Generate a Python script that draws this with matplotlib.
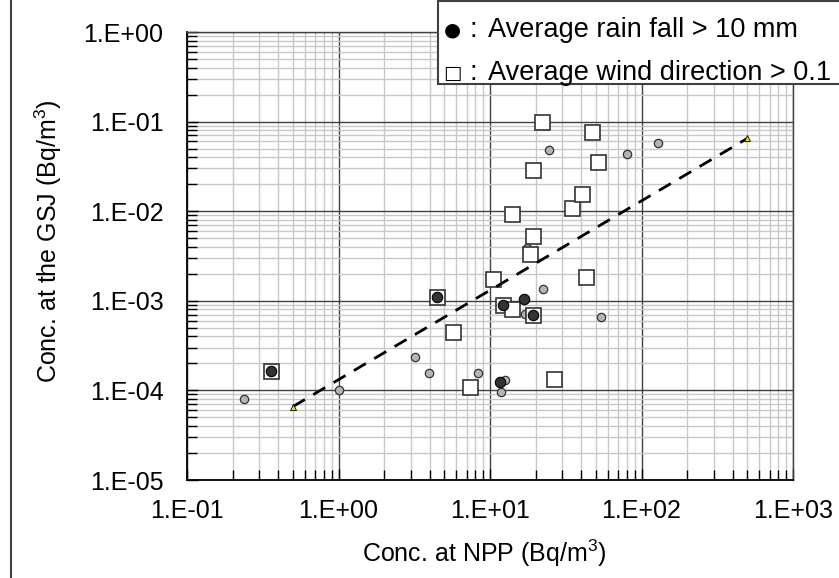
import numpy as np
import matplotlib
matplotlib.use("Agg")
import matplotlib.pyplot as plt
from matplotlib.ticker import LogLocator, FuncFormatter, NullFormatter
from matplotlib.patches import Rectangle
from matplotlib.lines import Line2D

plt.rcParams['font.family'] = ['Liberation Sans', 'DejaVu Sans']
plt.rcParams['mathtext.fontset'] = 'custom'
plt.rcParams['mathtext.rm'] = 'Liberation Sans'
plt.rcParams['mathtext.it'] = 'Liberation Sans:italic'

# all samples (grey dots)
all_x = [0.239, 1.0, 3.2, 3.95, 8.3, 12.5, 11.9, 17.0, 22.5, 53.8, 17.5, 24.7, 80.0, 129.0]
all_y = [8.1e-5, 1.0e-4, 2.35e-4, 1.56e-4, 1.57e-4, 1.32e-4, 9.7e-5, 7.1e-4,
         1.34e-3, 6.65e-4, 3.9e-3, 0.048, 0.0433, 0.057]

# average rain fall > 10 mm (dark dots)
rain_x = [0.357, 4.5, 11.6, 12.1, 16.8, 19.2]
rain_y = [1.64e-4, 1.09e-3, 1.24e-4, 8.9e-4, 1.06e-3, 7.0e-4]

# average wind direction > 0.1 (open squares)
wind_x = [0.357, 4.5, 5.7, 7.4, 10.5, 12.1, 13.9, 19.2, 26.3, 18.4,
          43.0, 19.3, 13.9, 34.7, 40.6, 19.2, 52.0, 47.1, 22.1]
wind_y = [1.64e-4, 1.09e-3, 4.5e-4, 1.08e-4, 1.74e-3, 8.9e-4, 8.2e-4, 7.0e-4, 1.35e-4, 3.3e-3,
          1.85e-3, 5.26e-3, 9.2e-3, 0.0109, 0.0156, 0.0289, 0.0356, 0.077, 0.0995]

# regression line end points
fit_x = [0.5, 500]
fit_y = [6.6e-5, 0.065]

W, H = 839, 578
fig = plt.figure(figsize=(W / 100, H / 100), dpi=100)
ax = fig.add_axes([187 / W, 1 - 480 / H, (793 - 187) / W, (480 - 32) / H])

ax.set_xscale('log')
ax.set_yscale('log')
ax.set_xlim(0.1, 1000)
ax.set_ylim(1e-5, 1)

for axis in (ax.xaxis, ax.yaxis):
    axis.set_major_locator(LogLocator(base=10, numticks=20))
    axis.set_minor_locator(LogLocator(base=10, subs=np.arange(2, 10), numticks=20))
    axis.set_major_formatter(FuncFormatter(lambda v, p: "1.E%+03d" % int(round(np.log10(v)))))
    axis.set_minor_formatter(NullFormatter())

ax.set_axisbelow(True)
ax.grid(which='minor', color='#c8c8c8', lw=1.0)
ax.grid(which='major', color='#404040', lw=1.0)

ax.tick_params(which='both', direction='in', top=False, right=False, color='black', labelsize=18)
ax.tick_params(which='major', length=8, width=1)
ax.tick_params(which='minor', length=7, width=1)
ax.tick_params(axis='x', pad=14)
ax.tick_params(axis='y', pad=17)

for s in ('top', 'right'):
    ax.spines[s].set_color('#404040')
    ax.spines[s].set_linewidth(1.0)
for s in ('left', 'bottom'):
    ax.spines[s].set_color('black')
    ax.spines[s].set_linewidth(1.3)

ax.plot(all_x, all_y, 'o', ms=6, mfc='#b4b4b4', mec='#333333', mew=0.9, zorder=3)
ax.plot(wind_x, wind_y, 's', ms=10.8, mfc='white', mec='#333333', mew=1.2, zorder=4)
ax.plot(rain_x, rain_y, 'o', ms=7.5, mfc='#333333', mec='black', mew=0.8, zorder=5)
ax.plot(fit_x, fit_y, color='black', lw=2.0, ls=(0, (5, 3.5)),
        marker='^', ms=4, mfc='#e8e000', mec='black', mew=0.6, zorder=6)

ax.set_xlabel(r'Conc. at NPP (Bq/m$^{3}$)', fontsize=18)
ax.xaxis.label.set_va('baseline')
ax.xaxis.set_label_coords((484 - 187) / 606, (480 - 562) / 448)
ax.set_ylabel(r'Conc. at the GSJ (Bq/m$^{3}$)', fontsize=18)
ax.yaxis.label.set_va('baseline')
ax.yaxis.set_label_coords((57 - 187) / 606, 0.533)

# outer chart border (left edge only visible)
fig.add_artist(Line2D([11 / W, 11 / W], [0, 1], color='#404040', lw=1.5))

# legend text box
fig.add_artist(Rectangle((438 / W, 1 - 84 / H), 1, 83 / H, facecolor='white',
                         edgecolor='#404040', lw=1.5, zorder=10))
for yy, glyph, label in [(30, '\u25cf', 'Average rain fall > 10 mm'),
                         (73, '\u25a1', 'Average wind direction > 0.1')]:
    fig.text(452 / W, 1 - yy / H, glyph, ha='center', va='center', fontsize=14,
             family=['DejaVu Sans'], zorder=11)
    fig.text(473 / W, 1 - yy / H, ':', ha='center', va='center', fontsize=19.5, zorder=11)
    fig.text(488 / W, 1 - yy / H, label, ha='left', va='center', fontsize=19.5, zorder=11)

fig.savefig('out.png', dpi=100)
